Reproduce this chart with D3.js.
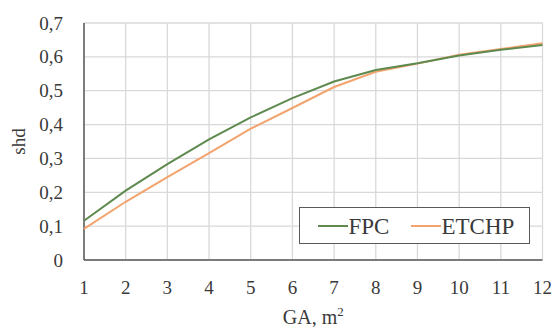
<!DOCTYPE html>
<html>
<head>
<meta charset="utf-8">
<script src="https://cdn.jsdelivr.net/npm/d3@7"></script>
<style>
  body { margin: 0; background: #fff; }
  text { font-family: "Liberation Serif", "Times New Roman", serif; fill: #3a3a3a; }
</style>
</head>
<body>
<div id="chart"></div>
<script>
// Data.
const gaValues = [1, 2, 3, 4, 5, 6, 7, 8, 9, 10, 11, 12];
const fpcValues = [0.116, 0.205, 0.283, 0.356, 0.421, 0.478, 0.527, 0.561, 0.581, 0.604, 0.621, 0.635];
const etchpValues = [0.092, 0.172, 0.245, 0.316, 0.388, 0.449, 0.511, 0.556, 0.58, 0.606, 0.623, 0.64];
const yTicks = [0, 0.1, 0.2, 0.3, 0.4, 0.5, 0.6, 0.7];
const seriesNames = ["FPC", "ETCHP"];
const seriesColors = ["#5f8a4f", "#f3a46e"];

const width = 555, height = 327;
const margin = { top: 23, right: 12.5, bottom: 67, left: 84 };

const svg = d3.select("#chart")
  .append("svg")
  .attr("width", width)
  .attr("height", height);

const x = d3.scaleLinear()
  .domain([1, 12])
  .range([margin.left, width - margin.right]);

const y = d3.scaleLinear()
  .domain([0, 0.7])
  .range([height - margin.bottom, margin.top]);

// Gridlines.
svg.append("g")
  .selectAll("line.v")
  .data(gaValues)
  .enter()
  .append("line")
  .attr("x1", d => x(d)).attr("x2", d => x(d))
  .attr("y1", y(0)).attr("y2", y(0.7))
  .style("stroke", "#d9d9d9")
  .style("stroke-width", 1.3);

svg.append("g")
  .selectAll("line.h")
  .data(yTicks)
  .enter()
  .append("line")
  .attr("x1", x(1)).attr("x2", x(12))
  .attr("y1", d => y(d)).attr("y2", d => y(d))
  .style("stroke", "#d9d9d9")
  .style("stroke-width", 1.3);

// Axes lines.
svg.append("line")
  .attr("x1", x(1)).attr("x2", x(1))
  .attr("y1", y(0)).attr("y2", y(0.7))
  .style("stroke", "#595959").style("stroke-width", 1.5);
svg.append("line")
  .attr("x1", x(1)).attr("x2", x(12))
  .attr("y1", y(0)).attr("y2", y(0))
  .style("stroke", "#595959").style("stroke-width", 1.5);

// Tick labels.
const fmt = d => d === 0 ? "0" : d3.format(".1f")(d).replace(".", ",");
svg.append("g")
  .selectAll("text")
  .data(yTicks)
  .enter()
  .append("text")
  .attr("x", 63)
  .attr("y", d => y(d) + 6.5)
  .attr("text-anchor", "end")
  .style("font-size", "19px")
  .text(fmt);

svg.append("g")
  .selectAll("text")
  .data(gaValues)
  .enter()
  .append("text")
  .attr("x", d => x(d))
  .attr("y", 293.5)
  .attr("text-anchor", "middle")
  .style("font-size", "19px")
  .text(d => d);

// Axis titles.
const xTitle = svg.append("text")
  .attr("x", (x(1) + x(12)) / 2)
  .attr("y", 324)
  .attr("text-anchor", "middle")
  .style("font-size", "20px")
  .text("GA, m");
xTitle.append("tspan")
  .attr("dy", -8)
  .style("font-size", "13px")
  .text("2");

svg.append("text")
  .attr("transform", `translate(25, ${(y(0) + y(0.7)) / 2}) rotate(-90)`)
  .attr("text-anchor", "middle")
  .style("font-size", "19px")
  .text("shd");

// Lines.
const series = [fpcValues, etchpValues];
const line = d3.line()
  .x((d, i) => x(gaValues[i]))
  .y(d => y(d));

// Draw ETCHP first so FPC sits on top where they overlap.
[1, 0].forEach(i => {
  svg.append("path")
    .datum(series[i])
    .attr("d", line)
    .style("fill", "none")
    .style("stroke", seriesColors[i])
    .style("stroke-width", 2);
});

// Legend.
const legend = svg.append("g");
legend.append("rect")
  .attr("x", 299.5).attr("y", 207.5)
  .attr("width", 230).attr("height", 36)
  .style("fill", "#fff")
  .style("stroke", "#595959")
  .style("stroke-width", 1);

const legendItems = [
  { x0: 318, x1: 348 },
  { x0: 411, x1: 441 }
];
legendItems.forEach((it, i) => {
  legend.append("line")
    .attr("x1", it.x0).attr("x2", it.x1)
    .attr("y1", 226).attr("y2", 226)
    .style("stroke", seriesColors[i])
    .style("stroke-width", 2);
  legend.append("text")
    .attr("x", it.x1 + 0.5)
    .attr("y", 234)
    .style("font-size", "23px")
    .text(seriesNames[i]);
});
</script>
</body>
</html>
